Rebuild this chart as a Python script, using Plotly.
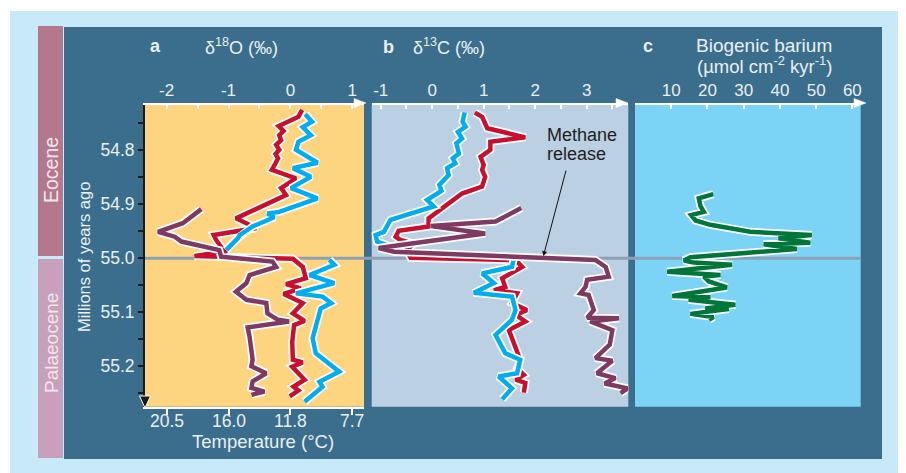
import plotly.graph_objects as go

# ---------------- data ----------------
# Panel a: delta 18O (per mil) vs age (Ma)
a_red_age = [54.725, 54.738, 54.755, 54.764, 54.772, 54.781, 54.790, 54.799, 54.807, 54.815,
             54.824, 54.836, 54.852, 54.870, 54.883, 54.926, 54.944, 54.957, 54.966, 54.987,
             54.996, 55.001, 55.016, 55.037, 55.048, 55.056, 55.066, 55.083, 55.102, 55.116,
             55.124, 55.155, 55.188, 55.193, 55.201, 55.225, 55.238, 55.245, 55.256]
a_red_d18o = [0.19, 0.13, -0.19, -0.11, -0.18, -0.15, -0.23, -0.18, -0.24, -0.20,
              -0.24, -0.30, 0.09, -0.15, -0.07, -0.88, -0.55, -1.24, -1.20, -1.07,
              -1.55, 0.04, 0.20, 0.25, -0.07, 0.17, -0.11, 0.20, 0.04, 0.23,
              0.06, 0.03, 0.04, 0.20, 0.03, 0.23, 0.05, 0.13, -0.01]

a_cyan_age = [54.733, 54.747, 54.757, 54.772, 54.784, 54.799, 54.823, 54.833, 54.849, 54.870,
              54.889, 54.914, 54.917, 54.924, 54.941, 54.957, 54.963, 54.975, 54.985, None,
              55.003, 55.012, 55.031, 55.046, 55.065, 55.071, 55.083, 55.093, 55.148, 55.176,
              55.210, 55.229, 55.238, 55.266]
a_cyan_d18o = [0.24, 0.35, 0.20, 0.33, 0.13, 0.09, 0.44, 0.04, 0.33, 0.01,
               0.44, -0.18, -0.37, -0.26, -0.61, -0.82, -0.85, -0.96, -1.04, None,
               0.63, 0.71, 0.31, 0.71, 0.09, 0.52, 0.66, 0.49, 0.36, 0.41,
               0.79, 0.47, 0.52, 0.23]

a_pur_age = [54.909, 54.935, 54.951, 54.960, 54.969, 54.985, 54.997, 55.006, 55.016, 55.031,
             55.046, 55.062, 55.077, 55.083, 55.102, 55.114, 55.117, 55.128, 55.145, 55.188,
             55.200, 55.213, 55.228, 55.240, 55.247, 55.253]
a_pur_d18o = [-1.44, -1.74, -2.14, -1.87, -1.76, -1.15, -1.12, -0.29, -0.23, -0.66,
              -0.71, -0.88, -0.71, -0.39, -0.37, -0.20, -0.02, -0.69, -0.66, -0.61,
              -0.63, -0.39, -0.61, -0.63, -0.42, -0.63]

# Panel b: delta 13C (per mil)
b_red_age = [54.730, 54.738, 54.759, 54.776, 54.784, 54.799, 54.812, 54.827, 54.836, 54.849,
             54.867, 54.880, 54.926, 54.941, 54.949, 54.960, 54.966, 54.973, 54.985, 54.999,
             55.003, 55.009, 55.016, 55.037, 55.053, 55.059, 55.065, 55.083, 55.096, 55.105,
             55.117, 55.133, 55.188, 55.204, 55.216, 55.225, 55.231, 55.249]
b_red_d13c = [0.83, 0.97, 1.07, 1.81, 1.13, 1.13, 0.94, 1.00, 0.97, 1.03,
              0.97, 0.58, -0.07, -0.07, -0.65, -0.71, -0.62, -0.36, -0.50, -0.42,
              1.52, 1.68, 1.75, 1.36, 1.42, 1.20, 1.65, 1.55, 1.84, 1.62,
              1.81, 1.49, 1.71, 1.65, 1.78, 1.62, 1.81, 1.78]

b_cyan_age = [54.730, 54.747, 54.756, 54.766, 54.778, 54.787, 54.806, 54.815, 54.824, 54.833,
              54.846, 54.864, 54.875, 54.892, 54.904, 54.929, 54.951, 54.957, 54.969, 54.978,
              54.988, None, 55.003, 55.016, 55.028, 55.046, 55.064, 55.071, 55.096, 55.114,
              55.142, 55.176, 55.188, 55.213, 55.219, 55.241, 55.261]
b_cyan_d13c = [0.63, 0.59, 0.65, 0.50, 0.58, 0.47, 0.52, 0.40, 0.45, 0.29,
               0.32, 0.14, 0.18, -0.10, 0.03, -0.81, -0.94, -1.10, -1.07, -0.81,
               -0.71, None, 1.58, 1.55, 0.97, 1.20, 0.81, 1.55, 1.62, 1.55,
               1.23, 1.42, 1.71, 1.65, 1.29, 1.55, 1.36]

b_pur_age = [54.907, 54.932, 54.940, 54.954, 54.981, 54.988, 55.003, 55.016, 55.034, 55.040,
             55.053, 55.065, 55.068, 55.096, 55.110, 55.111, 55.117, 55.133, 55.160, 55.185,
             55.190, 55.213, 55.222, 55.232, 55.241, 55.250]
b_pur_d13c = [1.73, 1.23, -0.03, 1.03, -1.04, -0.74, 3.17, 3.37, 3.43, 3.01,
              2.98, 2.88, 3.04, 3.14, 3.01, 3.63, 3.07, 3.50, 3.45, 3.17,
              3.50, 3.20, 3.56, 3.35, 3.80, 3.66]

# Panel c: biogenic barium (umol cm-2 kyr-1)
c_age = [54.881, 54.889, 54.904, 54.914, 54.920, 54.930, 54.938, 54.951, 54.957, 54.963,
         54.971, 54.974, 54.983, 54.988, 54.998, 55.004, 55.008, 55.012, 55.025, 55.031,
         55.034, 55.043, 55.054, 55.070, 55.072, 55.077, 55.086, 55.093, 55.094, 55.103,
         55.109, 55.114]
c_ba = [21.6, 17.6, 18.1, 19.0, 15.5, 16.7, 20.8, 31.8, 48.8, 39.6,
        48.4, 35.5, 44.7, 34.6, 15.3, 13.5, 16.2, 26.8, 8.9, 23.6,
        19.0, 20.4, 25.4, 10.3, 20.8, 14.8, 27.7, 19.4, 25.9, 15.3,
        21.7, 20.4]

boundary_age = 55.0

# tick labels
a_top_ticks = [-2, -1.5, -1, -0.5, 0, 0.5, 1]
a_top_text = ["-2", "", "-1", "", "0", "", "1"]
a_temp_ticks = [-2, -1, 0, 1]
a_temp_text = ["20.5", "16.0", "11.8", "7.7"]
b_top_ticks = [-1, -0.5, 0, 0.5, 1, 1.5, 2, 2.5, 3, 3.5]
b_top_text = ["-1", "", "0", "", "1", "", "2", "", "3", ""]
c_top_ticks = [0, 10, 20, 30, 40, 50, 60]
c_top_text = ["", "10", "20", "30", "40", "50", "60"]
age_ticks = [54.75, 54.8, 54.85, 54.9, 54.95, 55.0, 55.05, 55.1, 55.15, 55.2, 55.25]
age_text = ["", "54.8", "", "54.9", "", "55.0", "", "55.1", "", "55.2", ""]

# ---------------- styling / layout ----------------
OFF = 8  # browser body margin
W, H = 906 - OFF, 473 - OFF
FONT = "Liberation Sans, Arial, Helvetica, sans-serif"
TXT = "#E9EFF3"
RED = "#C8102E"
CYAN = "#00AEEF"
PUR = "#7E3A62"
GREEN = "#00763A"


def PX(x):
    return (x - OFF) / W


def PY(y):
    return 1 - (y - OFF) / H


dom_a = [PX(145), PX(364)]
dom_b = [PX(371.7), PX(628.3)]
dom_c = [PX(635), PX(860.7)]
dom_y = [PY(406.7), PY(105)]
yr = [55.275, 54.716]

fig = go.Figure()


def add_series(x, y, color, xa, ya):
    fig.add_trace(go.Scatter(x=x, y=y, mode="lines", xaxis=xa, yaxis=ya,
                             line=dict(color="white", width=8), hoverinfo="skip",
                             showlegend=False, connectgaps=False))
    fig.add_trace(go.Scatter(x=x, y=y, mode="lines", xaxis=xa, yaxis=ya,
                             line=dict(color=color, width=4.5), showlegend=False,
                             connectgaps=False))


add_series(a_red_d18o, a_red_age, RED, "x", "y")
add_series(a_cyan_d18o, a_cyan_age, CYAN, "x", "y")
add_series(a_pur_d18o, a_pur_age, PUR, "x", "y")
add_series(b_red_d13c, b_red_age, RED, "x2", "y2")
add_series(b_cyan_d13c, b_cyan_age, CYAN, "x2", "y2")
add_series(b_pur_d13c, b_pur_age, PUR, "x2", "y2")
add_series(c_ba, c_age, GREEN, "x3", "y3")
# empty trace so that the temperature axis (x4) is created and drawn
fig.add_trace(go.Scatter(x=[None], y=[None], xaxis="x4", yaxis="y", mode="lines",
                         showlegend=False, hoverinfo="skip"))

tickfont = dict(family=FONT, size=17, color=TXT)


def top_axis(dom, rng, tv, tt, anchor):
    return dict(domain=dom, range=rng, side="top", anchor=anchor, tickmode="array",
                tickvals=tv, ticktext=tt, ticks="inside", ticklen=4, tickwidth=1.5,
                tickcolor="white", showline=True, linecolor="white", linewidth=2,
                showgrid=False, zeroline=False, tickfont=tickfont, fixedrange=True)


shapes = [
    dict(type="rect", xref="paper", yref="paper", x0=PX(10), x1=PX(903), y0=PY(473), y1=PY(11),
         fillcolor="#C8E9F8", line=dict(width=0), layer="below"),
    dict(type="rect", xref="paper", yref="paper", x0=PX(38), x1=PX(63), y0=PY(256), y1=PY(26),
         fillcolor="#B3788C", line=dict(width=0), layer="below"),
    dict(type="rect", xref="paper", yref="paper", x0=PX(38), x1=PX(63), y0=PY(458), y1=PY(259),
         fillcolor="#C8A0BE", line=dict(width=0), layer="below"),
    dict(type="rect", xref="paper", yref="paper", x0=PX(64), x1=PX(882), y0=PY(459), y1=PY(27),
         fillcolor="#3B6E8C", line=dict(width=0), layer="below"),
    dict(type="rect", xref="paper", yref="paper", x0=dom_a[0], x1=dom_a[1], y0=dom_y[0], y1=dom_y[1],
         fillcolor="#FDD47F", line=dict(width=0), layer="below"),
    dict(type="rect", xref="paper", yref="paper", x0=dom_b[0], x1=dom_b[1], y0=dom_y[0], y1=dom_y[1],
         fillcolor="#BBD0E3", line=dict(width=0), layer="below"),
    dict(type="rect", xref="paper", yref="paper", x0=dom_c[0], x1=dom_c[1], y0=dom_y[0], y1=dom_y[1],
         fillcolor="#7BD3F5", line=dict(width=0), layer="below"),
    dict(type="line", xref="paper", yref="y", x0=dom_a[0], x1=dom_c[1], y0=boundary_age,
         y1=boundary_age, line=dict(color="#8CA2B4", width=3), layer="below"),
]


def tri(pts, fill, lc, lw):
    path = "M " + " L ".join(f"{PX(x)} {PY(y)}" for x, y in pts) + " Z"
    return dict(type="path", xref="paper", yref="paper", path=path, fillcolor=fill,
                line=dict(color=lc, width=lw), layer="above")


shapes += [
    tri([(366, 103), (354, 98.5), (354, 107.5)], "white", "white", 0.5),
    tri([(628, 103), (616, 98.5), (616, 107.5)], "white", "white", 0.5),
    tri([(866, 103), (854, 98.5), (854, 107.5)], "white", "white", 0.5),
    tri([(145, 408), (139.5, 396), (150.5, 396)], "#1a1a1a", "white", 1),
]

ann = []


def text(x, y, s, size=17, color=TXT, bold=False, xanchor="center", angle=0):
    ann.append(dict(xref="paper", yref="paper", x=PX(x), y=PY(y), text=f"<b>{s}</b>" if bold else s,
                    showarrow=False, xanchor=xanchor, yanchor="middle", textangle=angle,
                    font=dict(family=FONT, size=size, color=color)))


text(148, 46, "a", size=18, bold=True, xanchor="left")
text(241, 47, "δ<sup>18</sup>O (‰)", size=18)
text(381, 47, "b", size=18, bold=True, xanchor="left")
text(449, 47, "δ<sup>13</sup>C (‰)", size=18)
text(641, 46, "c", size=18, bold=True, xanchor="left")
text(764, 45, "Biogenic barium", size=19)
text(764, 65, "(µmol cm<sup>-2</sup> kyr<sup>-1</sup>)", size=18.5)
text(263, 441, "Temperature (°C)", size=18.5)
text(84, 257, "Millions of years ago", size=16.5, angle=-90)
text(51, 170, "Eocene", size=19.5, color="#F3E6EC", angle=-90)
text(51, 343, "Palaeocene", size=19, color="#F3E6EC", angle=-90)
text(545, 135, "Methane", size=18, color="#1E1E1E", xanchor="left")
text(545, 154, "release", size=18, color="#1E1E1E", xanchor="left")
# temperature tick labels under panel a
for tv, tt in zip(a_temp_ticks, a_temp_text):
    ann.append(dict(xref="x", yref="paper", x=tv, y=PY(421), text=tt, showarrow=False,
                    xanchor="center", yanchor="middle",
                    font=dict(family=FONT, size=17.5, color=TXT)))
ann.append(dict(xref="x2", yref="y2", x=2.16, y=54.996, ax=23, ay=-87, axref="pixel", ayref="pixel",
                showarrow=True, arrowhead=2, arrowsize=1, arrowwidth=1, arrowcolor="#111111",
                text=""))

fig.update_layout(
    width=W, height=H, margin=dict(l=0, r=0, t=0, b=0), autosize=False,
    paper_bgcolor="white", plot_bgcolor="rgba(0,0,0,0)", showlegend=False,
    xaxis=top_axis(dom_a, [-2.35, 1.19], a_top_ticks, a_top_text, "y"),
    xaxis2=top_axis(dom_b, [-1.175, 3.81], b_top_ticks, b_top_text, "y2"),
    xaxis3=top_axis(dom_c, [0, 62.3], c_top_ticks, c_top_text, "y3"),
    xaxis4=dict(overlaying="x", side="bottom", anchor="y", range=[-2.35, 1.19], tickmode="array",
                tickvals=a_temp_ticks, ticks="outside", ticklen=6, showticklabels=False,
                tickwidth=1.5, tickcolor="white", showline=True, linecolor="white", linewidth=2,
                showgrid=False, zeroline=False),
    yaxis=dict(domain=dom_y, range=yr, anchor="x", tickmode="array", tickvals=age_ticks,
               ticktext=age_text, ticks="outside", ticklen=5, tickwidth=1.5, tickcolor="#1a1a1a",
               showline=True, linecolor="#1a1a1a", linewidth=2, showgrid=False, zeroline=False,
               tickfont=dict(family=FONT, size=17.5, color=TXT)),
    yaxis2=dict(domain=dom_y, range=yr, anchor="x2", visible=False),
    yaxis3=dict(domain=dom_y, range=yr, anchor="x3", visible=False),
    shapes=shapes, annotations=ann,
)

fig.write_html("out.html")
